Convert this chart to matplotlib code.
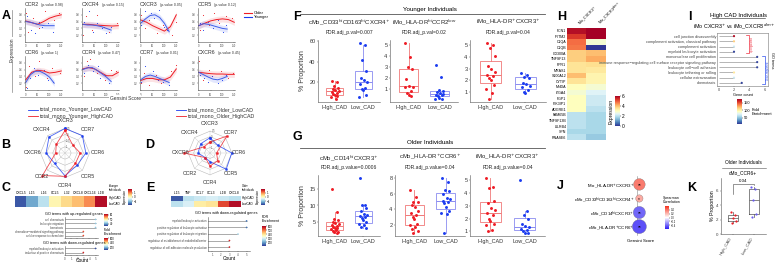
import numpy as np
import matplotlib
matplotlib.use("Agg")
import matplotlib.pyplot as plt
from matplotlib.lines import Line2D
from matplotlib.colors import LinearSegmentedColormap, Normalize
from matplotlib.cm import ScalarMappable

plt.rcParams['font.family'] = ['Liberation Sans', 'DejaVu Sans']
plt.rcParams['axes.linewidth'] = 0.4
plt.rcParams['xtick.major.width'] = 0.3
plt.rcParams['ytick.major.width'] = 0.3
plt.rcParams['xtick.major.size'] = 1
plt.rcParams['ytick.major.size'] = 1
plt.rcParams['xtick.major.pad'] = 0.8
plt.rcParams['ytick.major.pad'] = 0.8

# ---------------- data ----------------
# A: expression vs Gensini score
A_GENES = ['CCR2', 'CXCR4', 'CXCR3', 'CCR5', 'CCR6', 'CCR4', 'CCR7', 'CXCR6']
A_PVALS = ['0.98', '0.15', '0.05', '0.12', '1', '0.47', '0.01', '0.45']
A_X_OLD = [0, 25, 50, 75, 100, 125, 150]
A_X_YOUNG = [0, 20, 40, 60, 80, 100, 120]
A_OLD_LINE = [[0.62, 0.57, 0.52, 0.60, 0.70, 0.76, 0.80],
              [0.52, 0.52, 0.50, 0.49, 0.48, 0.47, 0.48],
              [0.65, 0.58, 0.48, 0.40, 0.32, 0.45, 0.80],
              [0.48, 0.55, 0.62, 0.66, 0.68, 0.66, 0.58],
              [0.30, 0.52, 0.58, 0.56, 0.50, 0.52, 0.56],
              [0.62, 0.66, 0.62, 0.52, 0.42, 0.42, 0.52],
              [0.28, 0.34, 0.34, 0.30, 0.30, 0.38, 0.62],
              [0.52, 0.50, 0.48, 0.47, 0.47, 0.46, 0.46]]
A_YOUNG_LINE = [[0.60, 0.58, 0.54, 0.50, 0.48, 0.48, 0.48],
                [0.52, 0.50, 0.50, 0.48, 0.45, 0.40, 0.35],
                [0.55, 0.68, 0.78, 0.80, 0.72, 0.55, 0.30],
                [0.48, 0.54, 0.52, 0.48, 0.44, 0.40, 0.38],
                [0.22, 0.45, 0.55, 0.55, 0.48, 0.38, 0.20],
                [0.60, 0.65, 0.66, 0.58, 0.48, 0.38, 0.25],
                [0.30, 0.40, 0.44, 0.40, 0.34, 0.28, 0.22],
                [0.52, 0.45, 0.38, 0.32, 0.30, 0.34, 0.40]]
A_OLD_PX = [[2, 10, 30, 55, 80, 120, 140], [3, 15, 40, 60, 90, 110, 145],
            [2, 20, 35, 70, 95, 130, 148], [5, 18, 45, 65, 85, 115, 140],
            [3, 12, 38, 58, 88, 112, 146], [4, 16, 30, 62, 92, 118, 142],
            [2, 14, 36, 66, 84, 126, 148], [3, 20, 42, 56, 96, 124, 144]]
A_OLD_PY = [[0.85, 0.30, 0.70, 0.40, 0.90, 0.65, 0.85], [0.20, 0.75, 0.35, 0.80, 0.45, 0.30, 0.55],
            [0.80, 0.40, 0.65, 0.25, 0.50, 0.20, 0.60], [0.35, 0.80, 0.50, 0.85, 0.55, 0.75, 0.70],
            [0.10, 0.70, 0.40, 0.85, 0.35, 0.65, 0.50], [0.40, 0.85, 0.90, 0.50, 0.30, 0.60, 0.55],
            [0.20, 0.50, 0.15, 0.45, 0.20, 0.55, 0.75], [0.85, 0.30, 0.60, 0.40, 0.55, 0.35, 0.50]]
A_YOUNG_PX = [[5, 22, 40, 55, 70, 95, 115], [4, 25, 45, 60, 80, 100, 118],
              [3, 18, 42, 58, 76, 98, 112], [6, 20, 38, 62, 82, 102, 116],
              [4, 16, 34, 52, 78, 94, 114], [5, 24, 44, 64, 74, 96, 110],
              [3, 20, 36, 50, 72, 92, 118], [6, 22, 40, 56, 80, 100, 116]]
A_YOUNG_PY = [[0.75, 0.35, 0.25, 0.60, 0.45, 0.55, 0.30], [0.60, 0.90, 0.30, 0.55, 0.40, 0.25, 0.45],
              [0.50, 0.90, 0.85, 0.70, 0.95, 0.45, 0.35], [0.55, 0.35, 0.60, 0.40, 0.65, 0.30, 0.50],
              [0.05, 0.35, 0.65, 0.45, 0.60, 0.30, 0.25], [0.50, 0.75, 0.55, 0.70, 0.35, 0.45, 0.20],
              [0.25, 0.70, 0.35, 0.55, 0.30, 0.25, 0.15], [0.45, 0.35, 0.25, 0.40, 0.20, 0.30, 0.45]]

# B/D radar
R_AXES = ['CXCR3', 'CCR7', 'CCR6', 'CCR5', 'CCR4', 'CCR2', 'CXCR6', 'CXCR4']
B_LOW = [1.0, 1.0, 0.85, 0.7, 0.93, 0.6, 0.77, 0.92]
B_HIGH = [0.92, 0.45, 0.62, 0.6, 0.95, 1.3, 0.38, 0.5]
D_LOW = [0.7, 0.5, 1.0, 1.05, 0.4, 0.3, 0.55, 0.6]
D_HIGH = [0.5, 1.1, 0.3, 0.5, 0.6, 0.3, 1.2, 0.4]

# C/E heatmaps
C_GENES = ['CXCL5', 'IL15', 'IL16', 'CCL5', 'IL32', 'CXCL8', 'CXCL16', 'IL1B']
C_VALS = [[-1.6, -1.1, -0.6, 0.1, 0.4, 0.6, 0.9, 1.7],
          [-1.6, -1.1, -0.6, 0.1, 0.4, 0.6, 0.9, 1.7]]
E_GENES = ['IL15', 'TNF', 'CCL7', 'CCL3', 'IL1B', 'CXCL8']
E_VALS = [[-1.6, -0.6, -0.5, -0.4, -0.5, -0.6],
          [-0.6, -0.4, 0.2, 0.3, 1.3, 1.7]]

# C/E GO terms
C_UP_TERMS = ['cell chemotaxis', 'leukocyte migration', 'chemotaxis',
              'chemokine−mediated signaling pathway', 'cellular response to chemokine']
C_UP_COUNT = [5, 5, 5, 3, 3]
C_UP_FE = [42, 42, 42, 58, 58]
C_DN_TERMS = ['myeloid leukocyte activation', 'induction of positive chemotaxis']
C_DN_COUNT = [5, 3]
C_DN_FE = [120, 560]
E_TERMS = ['myeloid leukocyte activation', 'positive regulation of leukocyte activation',
           'positive regulation of leukocyte migration',
           'regulation of establishment of endothelial barrier',
           'regulation of cell adhesion molecule production']
E_COUNT = [5, 5, 4, 3, 3]
E_FE = [150, 150, 250, 560, 560]

# F/G box plots
F_TITLES = [r'cMo_CD33$^{hi}$CD163$^{hi}$CXCR4$^{+}$', r'iMo_HLA-DR$^{hi}$CCR2$^{low}$',
            r'iMo_HLA-DR$^{+}$CXCR3$^{+}$']
F_FDR = ['FDR.adj_p.val=0.007', 'FDR.adj_p.val=0.02', 'FDR.adj_p.val=0.04']
F_HIGH = [[21, 20, 17, 15, 14, 13, 12, 11, 10, 9, 8, 7, 6, 4],
          [5.2, 3.9, 3.0, 2.8, 1.9, 1.3, 1.2, 1.2, 0.8, 0.6, 0.4, 0.3],
          [5.2, 5.0, 4.8, 4.1, 3.2, 3.0, 2.7, 2.5, 2.4, 2.2, 2.0, 1.6, 1.3, 0.9, 0.4]]
F_LOW = [[58, 56, 42, 31, 24, 22, 20, 19, 15, 14, 13, 8, 6],
         [3.2, 2.1, 0.9, 0.8, 0.7, 0.6, 0.5, 0.4, 0.4, 0.3, 0.2, 0.1, 0.05],
         [2.6, 2.5, 2.3, 2.2, 1.8, 1.7, 1.5, 1.4, 1.2, 1.0, 0.9]]
F_YTICKS = [[20, 40, 60], [1, 2, 3, 4, 5], [1, 2, 3, 4, 5]]
G_TITLES = [r'cMo_CD14$^{hi}$CXCR3$^{+}$', r'cMo_HLA-DR$^{+}$CCR6$^{+}$',
            r'iMo_HLA-DR$^{+}$CXCR3$^{+}$']
G_FDR = ['FDR.adj_p.value=0.0006', 'FDR.adj_p.value=0.04', 'FDR.adj_p.value=0.04']
G_HIGH = [[15.2, 8.1, 5.8, 5.5, 5.0, 4.7, 4.3, 4.0, 3.8, 3.5, 3.2, 3.0, 2.8, 2.5, 2.2, 2.0, 1.8, 1.5],
          [6.4, 5.6, 5.0, 4.9, 4.6, 4.3, 3.8, 3.5, 3.3, 3.0, 2.8, 2.2, 2.0, 1.8, 1.5, 1.3, 1.0],
          [5.2, 4.5, 4.4, 3.4, 3.2, 2.8, 2.7, 2.4, 2.3, 2.0, 1.8, 1.6, 1.5, 1.1, 1.0]]
G_LOW = [[18.5, 10.3, 10.0, 9.2, 8.2, 7.5, 7.0, 6.8, 6.5, 6.2, 5.5, 4.8, 4.3, 4.0, 3.5, 3.0],
         [8.0, 7.5, 6.4, 6.3, 5.9, 5.5, 5.3, 5.1, 5.0, 4.8, 4.3, 3.8, 3.5, 3.4, 1.0],
         [5.0, 2.6, 2.3, 2.0, 1.6, 1.4, 1.3, 1.2, 1.1, 1.0, 0.9, 0.85]]
G_YTICKS = [[5, 10, 15], [2, 4, 6, 8], [1, 2, 3, 4, 5]]
BOX_GROUPS = ['High_CAD', 'Low_CAD']

# H heatmap
H_GENES = ['FCN1', 'IFITM2', 'C1QA', 'C1QB', 'CD300A', 'TNFSF13', 'FPR1', 'MRAS1', 'S100A12',
           'CYTIP', 'MNDA', 'ITGA4', 'FGP1', 'PIK3IP1', 'ADGRE1', 'FAM65B', 'TNFSF13B',
           'LILRB4', 'SPN', 'RNASE6']
H_COLS = [r'iMo_CXCR3$^{+}$', r'iMo_CXCR3$^{dim+}$']
H_COL1 = [5.8, 5.3, 4.8, 4.7, 3.8, 3.8, 3.5, 3.5, 4.0, 3.5, 3.0, 2.8, 3.0, 3.0, 3.0,
          2.0, 2.0, 2.0, 1.8, 2.0]
H_COL2 = [6.0, 6.0, 2.8, 0.0, 4.0, 4.2, 3.6, 3.4, 3.2, 3.2, 2.8, 2.4, 2.2, 2.2, 2.0,
          1.8, 1.8, 1.8, 1.8, 1.6]

# I GO lollipop
I_TERMS = ['cell junction disassembly', 'complement activation, classical pathway',
           'complement activation', 'myeloid leukocyte activation',
           'mononuclear cell proliferation',
           'immune response−regulating cell surface receptor signaling pathway',
           'leukocyte cell−cell adhesion', 'leukocyte tethering or rolling',
           'cellular extravasation', 'chemotaxis']
I_COUNT = [2, 2, 2, 2, 5, 5, 5, 2, 2, 3]
I_FE = [170, 115, 70, 15, 15, 15, 15, 105, 70, 15]

# J dot plot
J_CELLS = [r'iMo_HLA-DR$^{+}$CXCR3$^{+}$', r'cMo_CD33$^{hi}$CD163$^{hi}$CXCR4$^{+}$',
           r'cMo_CD14$^{hi}$CXCR3$^{+}$', r'cMo_HLA-DR$^{+}$CCR6$^{+}$']
J_RHO = [0.38, 0.24, -0.40, -0.46]
J_STARS = ['**', '*', '**', '**']

# K
K_HIGH = [3.0, 2.6, 2.2, 1.8, 1.5]
K_LOW = [6.6, 6.3, 4.7, 2.8, 2.3]

# ---------------- helpers ----------------
W, H = 779, 262
fig = plt.figure(figsize=(W / 100, H / 100), dpi=100)
RED, BLUE = '#ee1c25', '#1b3cf0'
LRED, LBLUE = '#f07878', '#8a8cf0'
JIT = [-0.12, 0.06, -0.03, 0.11, -0.08, 0.02, 0.13, -0.1, 0.07, -0.05, 0.0, 0.09, -0.14, 0.04,
       -0.06, 0.12, -0.02, 0.08]


def px_ax(x0, y0, x1, y1, **kw):
    return fig.add_axes([x0 / W, 1 - y1 / H, (x1 - x0) / W, (y1 - y0) / H], **kw)


def txt(x, y, s, **kw):
    kw.setdefault('ha', 'center')
    kw.setdefault('va', 'center')
    return fig.text(x / W, 1 - y / H, s, **kw)


def fline(xs, ys, **kw):
    kw.setdefault('color', 'black')
    kw.setdefault('lw', 0.5)
    fig.add_artist(Line2D([x / W for x in xs], [1 - y / H for y in ys],
                          transform=fig.transFigure, **kw))


def thin(ax, fs=2.5):
    ax.tick_params(labelsize=fs, colors='#444444')
    for s in ['top', 'right']:
        ax.spines[s].set_visible(False)
    for s in ['left', 'bottom']:
        ax.spines[s].set_color('#555555')


def small_cbar(x0, y0, x1, y1, vmin, vmax, cmap, ticks, fs):
    cax = px_ax(x0, y0, x1, y1)
    cb = fig.colorbar(ScalarMappable(Normalize(vmin, vmax), cmap), cax=cax, ticks=ticks)
    cb.ax.tick_params(labelsize=fs, length=0.8, pad=0.4)
    cb.outline.set_visible(False)
    return cb


# panel letters
for L, (x, y) in {'A': (6, 16), 'B': (6, 145), 'C': (6, 188), 'D': (150, 145), 'E': (150, 188),
                  'F': (297, 17), 'G': (297, 137), 'H': (562, 17), 'I': (690, 17),
                  'J': (560, 186), 'K': (692, 188)}.items():
    txt(x, y, L, fontsize=9, fontweight='bold')

# ---------------- A ----------------
A_COLS = [25, 82, 140, 198]
A_ROWS = [(8, 42), (56, 90)]
for i, g in enumerate(A_GENES):
    r, c = divmod(i, 4)
    ax = px_ax(A_COLS[c], A_ROWS[r][0], A_COLS[c] + 37, A_ROWS[r][1])
    yo = np.array(A_OLD_LINE[i])
    yy = np.array(A_YOUNG_LINE[i])
    ax.fill_between(A_X_OLD, yo - 0.09, yo + 0.09, color=RED, alpha=0.12, lw=0)
    ax.fill_between(A_X_YOUNG, yy - 0.09, yy + 0.09, color=BLUE, alpha=0.12, lw=0)
    ax.scatter(A_OLD_PX[i], A_OLD_PY[i], s=0.6, color=RED, lw=0)
    ax.scatter(A_YOUNG_PX[i], A_YOUNG_PY[i], s=0.6, color=BLUE, lw=0)
    ax.plot(A_X_OLD, yo, color=RED, lw=0.7)
    ax.plot(A_X_YOUNG, yy, color='#3f5ee8', lw=0.7)
    ax.set_xlim(-3, 153)
    ax.set_ylim(0, 1)
    ax.set_xticks([0, 50, 100, 150])
    ax.set_yticks([0.2, 0.4, 0.6, 0.8])
    thin(ax, 1.8)
    t = ax.text(0.0, 1.04, g, transform=ax.transAxes, fontsize=3.8, va='bottom', color='#333333')
    ax.annotate('(p-value ' + A_PVALS[i] + ')', xy=(1, 0), xycoords=t, xytext=(1.5, 0),
                textcoords='offset points', fontsize=2.5, va='bottom', color='#333333')

fline([20, 228], [97, 97], color='#888888', lw=0.5)
txt(125, 98.5, 'Gensini Score', fontsize=3.5, color='#333333',
    bbox=dict(facecolor='white', edgecolor='none', pad=0.6))
fline([12, 12], [10, 92], color='#888888', lw=0.5)
txt(12, 50, 'Expression', fontsize=3.5, rotation=90, color='#333333',
    bbox=dict(facecolor='white', edgecolor='none', pad=0.6))
# Older / Younger legend
fline([244, 252], [13, 13], color=RED, lw=0.8)
fline([244, 252], [17, 17], color=BLUE, lw=0.8)
txt(254, 13, 'Older', fontsize=3, ha='left')
txt(254, 17, 'Younger', fontsize=3, ha='left')

# ---------------- B / D radar ----------------
ANG = np.linspace(0, 2 * np.pi, len(R_AXES), endpoint=False)


def radar(cx, cy, rad, low, high, leg_x, leg_lab):
    fline([leg_x, leg_x + 10], [110, 110], color=BLUE, lw=0.6)
    fline([leg_x, leg_x + 10], [116, 116], color=RED, lw=0.6)
    txt(leg_x + 12, 110, leg_lab + '_LowCAD', fontsize=3.8, ha='left', color='#333333')
    txt(leg_x + 12, 116, leg_lab + '_HighCAD', fontsize=3.8, ha='left', color='#333333')
    ax = px_ax(cx - rad, cy - rad, cx + rad, cy + rad, projection='polar')
    ax.set_theta_zero_location('N')
    ax.set_theta_direction(-1)
    ax.set_ylim(0, 1.1)
    ax.axis('off')
    ac = np.append(ANG, ANG[0])
    for rr in [0.25, 0.5, 0.75, 1.0]:
        ax.plot(ac, [rr] * len(ac), color='#bbbbbb', lw=0.4)
    for a in ANG:
        ax.plot([a, a], [0, 1.0], color='#cccccc', lw=0.3)
    for k, lab in enumerate(['0.5', '0', '-0.5', '-1']):
        ax.text(0.08, 1.0 - 0.25 * k, lab, fontsize=1.8, color='#555555', va='center')
    for vals, col in [(low, BLUE), (high, RED)]:
        v = np.append(vals, vals[0])
        ax.plot(ac, v, color=col, lw=0.6, marker='s', ms=0.9, clip_on=False, alpha=0.8)
    for a, name in zip(ANG, R_AXES):
        ax.text(a, 1.33, name, fontsize=3.8, ha='center', va='center', color='#333333')


radar(65, 153, 27, B_LOW, B_HIGH, 28, 'total_mono_Younger')
radar(210, 153, 24, D_LOW, D_HIGH, 176, 'total_mono_Older')

# ---------------- C / E heatmaps ----------------
HCMAP = 'RdYlBu_r'


def small_heat(x0, x1, genes, vals, grp):
    ax = px_ax(x0, 196, x1, 207)
    ax.imshow(vals, cmap=HCMAP, vmin=-1.8, vmax=1.8, aspect='auto')
    ax.set_xticks(range(len(genes)))
    ax.set_xticklabels(genes, fontsize=2.4)
    ax.xaxis.tick_top()
    ax.tick_params(length=0, pad=0.5)
    ax.set_yticks([])
    for s in ax.spines.values():
        s.set_visible(False)
    txt(x1 + 1.5, 188, grp + '\nIndividuals', fontsize=2.0, ha='left', linespacing=0.9)
    txt(x1 + 1.5, 198, 'HighCAD', fontsize=2.2, ha='left')
    txt(x1 + 1.5, 204, 'LowCAD', fontsize=2.2, ha='left')
    small_cbar(x1 + 21, 189, x1 + 25, 205, -1.8, 1.8, HCMAP, [-1, 0, 1], 2)
    txt(x1 + 18, 197, 'Expression', fontsize=2.2, rotation=90)


small_heat(15, 107, C_GENES, C_VALS, 'Younger')
small_heat(171, 240, E_GENES, E_VALS, 'Older')

FE_CMAP = 'RdYlBu_r'


def lolli(x0, y0, x1, y1, terms, counts, fe, vmin, vmax, xt, fs=3):
    ax = px_ax(x0, y0, x1, y1)
    yy = np.arange(len(terms))[::-1]
    ax.hlines(yy, 0, counts, color='#888888', lw=0.5)
    ax.scatter(counts, yy, c=fe, cmap=FE_CMAP, vmin=vmin, vmax=vmax, s=1.5, zorder=3, lw=0)
    ax.set_yticks(yy)
    ax.set_yticklabels(terms, fontsize=fs)
    ax.set_ylim(-0.6, len(terms) - 0.4)
    ax.set_xticks(xt)
    thin(ax, 2)
    ax.tick_params(axis='y', length=0, pad=1)
    return ax


txt(74, 214, 'GO terms with up-regulated genes', fontsize=2.7)
a1 = lolli(65, 217, 98, 238, C_UP_TERMS, C_UP_COUNT, C_UP_FE, 35, 62, [0, 1, 2, 3, 4, 5])
a1.set_xlim(0, 5.4)
a1.set_xticklabels([])
txt(74, 243, 'GO terms with down-regulated genes', fontsize=2.7)
a2 = lolli(65, 246, 98, 255, C_DN_TERMS, C_DN_COUNT, C_DN_FE, 100, 600, [0, 1, 2, 3, 4, 5])
a2.set_xlim(0, 5.4)
txt(82, 260, 'Count', fontsize=3.5)
small_cbar(104, 214, 108, 226, 35, 62, FE_CMAP, [40, 50, 60], 2)
small_cbar(104, 238, 108, 250, 100, 600, FE_CMAP, [200, 400, 600], 2)
txt(104, 232, 'Fold\nEnrichment', fontsize=2.5, ha='left', linespacing=0.9)

txt(226, 213, 'GO terms with down-regulated genes', fontsize=2.7)
a3 = lolli(208, 217, 250, 251, E_TERMS, E_COUNT, E_FE, 100, 600, [1, 2, 3, 4, 5])
a3.set_xlim(0.5, 5.4)
txt(229, 259, 'Count', fontsize=3.5)
small_cbar(262, 226, 266, 246, 100, 600, FE_CMAP, [200, 300, 400, 500, 600], 2)
txt(262, 219, 'FDR\nEnrichment', fontsize=2.5, ha='left', linespacing=0.9)

# ---------------- F / G boxes ----------------


def boxpanel(x0, y0, x1, y1, title, fdr, hi, lo, yt, ylab):
    ax = px_ax(x0, y0, x1, y1)
    bp = ax.boxplot([hi, lo], positions=[0, 1], widths=0.6, showfliers=False, patch_artist=True)
    for k, c in enumerate([LRED, LBLUE]):
        bp['boxes'][k].set(facecolor='none', edgecolor=c, lw=0.6)
        bp['medians'][k].set(color=c, lw=0.7)
        for w in bp['whiskers'][2 * k:2 * k + 2]:
            w.set(color=c, lw=0.6)
        for cp in bp['caps'][2 * k:2 * k + 2]:
            cp.set_visible(False)
    for k, (vals, c) in enumerate([(hi, RED), (lo, BLUE)]):
        xs = [k + JIT[j % len(JIT)] for j in range(len(vals))]
        ax.scatter(xs, vals, s=4.5, color=c, lw=0, zorder=3)
    ax.set_xlim(-0.6, 1.6)
    ax.set_xticks([0, 1])
    ax.set_xticklabels(BOX_GROUPS)
    ax.set_yticks(yt)
    thin(ax, 4)
    ax.tick_params(colors='#333333')
    ax.text(0.5, 1.25, title, transform=ax.transAxes, ha='center', fontsize=4.3, color='#222222')
    ax.text(0.5, 1.1, fdr, transform=ax.transAxes, ha='center', fontsize=3.6, color='#222222')
    if ylab:
        ax.set_ylabel('% Proportion', fontsize=5, labelpad=2, color='#333333')
    return ax


txt(430, 9, 'Younger Individuals', fontsize=4.5)
fline([300, 545], [14, 14], color='#555555', lw=0.6)
FX = [(318, 380), (390, 458), (470, 546)]
for k in range(3):
    boxpanel(FX[k][0], 40, FX[k][1], 102, F_TITLES[k], F_FDR[k], F_HIGH[k], F_LOW[k],
             F_YTICKS[k], k == 0)
txt(430, 143, 'Older Individuals', fontsize=4.5)
fline([300, 545], [148, 148], color='#555555', lw=0.6)
GX = [(318, 380), (395, 465), (470, 545)]
for k in range(3):
    boxpanel(GX[k][0], 175, GX[k][1], 236, G_TITLES[k], G_FDR[k], G_HIGH[k], G_LOW[k],
             G_YTICKS[k], k == 0)

# ---------------- H heatmap ----------------
ax = px_ax(567, 28, 606, 140)
ax.imshow(np.array([H_COL1, H_COL2]).T, cmap=HCMAP, vmin=0, vmax=6, aspect='auto')
ax.set_yticks(range(len(H_GENES)))
ax.set_yticklabels(H_GENES, fontsize=2.6)
ax.set_xticks([0, 1])
ax.set_xticklabels(H_COLS, fontsize=2.6, rotation=45, ha='left')
ax.xaxis.tick_top()
ax.tick_params(length=0, pad=0.5)
for s in ax.spines.values():
    s.set_visible(False)
small_cbar(615, 96, 620, 126, 0, 6, HCMAP, [0, 2, 4, 6], 3.5)
txt(611, 111, 'Expression', fontsize=3.6, rotation=90)

# ---------------- I ----------------
txt(738, 15, 'High CAD Individuals', fontsize=4.3)
fline([712, 765], [18, 18], color='#222222', lw=0.4)
txt(734, 26, r'iMo CXCR3$^{+}$ vs iMo_CXCR3$^{dim+}$', fontsize=3.9)
ax = px_ax(717, 33, 768, 86)
yy = np.arange(len(I_TERMS))[::-1]
ax.hlines(yy, 0, I_COUNT, color='#999999', lw=0.5)
ax.scatter(I_COUNT, yy, c=I_FE, cmap='RdYlBu_r', vmin=10, vmax=175, s=2.5, zorder=3, lw=0)
ax.set_yticks(yy)
ax.set_yticklabels(I_TERMS, fontsize=2.5)
ax.set_ylim(-0.6, len(I_TERMS) - 0.4)
ax.set_xlim(-0.2, 6.4)
ax.set_xticks([0, 2, 4, 6])
ax.tick_params(labelsize=2.8, length=1, pad=0.6, colors='#444444')
ax.tick_params(axis='y', length=0)
for s in ax.spines.values():
    s.set_color('#777777')
ax.set_xlabel('Gene count', fontsize=2.8, labelpad=0.8)
ax.plot([3.6, 3.9, 3.9, 3.6], [9.2, 9.2, 5.8, 5.8], color='#ee3040', lw=0.5)
ax.text(4.1, 7.5, 'Up-regulated', color='#ee3040', fontsize=2, rotation=90, va='center')
ax.plot([5.6, 6.0, 6.0, 5.6], [5.2, 5.2, -0.2, -0.2], color='#3050ee', lw=0.5)
ax.text(6.15, 2.5, 'Down-regulated', color='#3050ee', fontsize=2, rotation=90, va='center')
txt(772, 60, 'GO terms', fontsize=2.8, rotation=270)
small_cbar(737, 99, 742, 124, 10, 175, 'RdYlBu_r', [50, 100, 150], 2.8)
txt(752, 112, 'Fold\nEnrichment', fontsize=3, ha='left', linespacing=0.9)

# ---------------- J ----------------
JCMAP = LinearSegmentedColormap.from_list('j', ['#2d1cf5', '#ffffff', '#f5301c'])
ax = px_ax(637, 176, 645, 235)
yy = np.arange(len(J_CELLS))[::-1]
ax.scatter([0] * len(yy), yy, s=(np.abs(J_RHO) * 22) ** 2, c=J_RHO, cmap=JCMAP, vmin=-0.6,
           vmax=0.6, zorder=3, edgecolors='#666666', linewidths=0.2, clip_on=False)
for y, st in zip(yy, J_STARS):
    ax.text(0, y - 0.08, st, ha='center', va='center', fontsize=3.5, zorder=4)
ax.set_xlim(-0.5, 1.2)
ax.set_ylim(-0.6, len(yy) - 0.4)
ax.set_yticks(yy)
ax.set_yticklabels(J_CELLS, fontsize=3.2)
ax.set_xticks([])
ax.set_xlabel('Gensini Score', fontsize=3.2, labelpad=3)
for s in ['top', 'right', 'bottom']:
    ax.spines[s].set_visible(False)
ax.spines['left'].set_color('#888888')
ax.tick_params(axis='y', length=0, pad=2)
small_cbar(665, 206, 669, 229, -0.6, 0.6, JCMAP, [-0.4, -0.2, 0, 0.2, 0.4], 1.8)
txt(663, 200, 'Spearman\nCorrelation', fontsize=2.6, ha='left', linespacing=0.9)

# ---------------- K ----------------
txt(743, 163, 'Older Individuals', fontsize=3.5)
fline([722, 766], [168, 168], color='#555555', lw=0.4)
txt(743, 173, 'cMo_CCR6+', fontsize=3.5)
ax = px_ax(721, 178, 766, 234)
bp = ax.boxplot([K_HIGH, K_LOW], positions=[0, 1], widths=0.5, showfliers=False)
for k in range(2):
    for part in ['boxes', 'medians']:
        bp[part][k].set(color='#555555', lw=0.5)
    for w in bp['whiskers'][2 * k:2 * k + 2]:
        w.set(color='#555555', lw=0.5)
    for cp in bp['caps'][2 * k:2 * k + 2]:
        cp.set_visible(False)
ax.scatter([0 + JIT[j] for j in range(len(K_HIGH))], K_HIGH, s=2.5, color=RED, lw=0, zorder=3)
ax.scatter([1 + JIT[j] for j in range(len(K_LOW))], K_LOW, s=2.5, color='#6a5cf0', lw=0, zorder=3)
ax.set_ylim(0, 7.8)
ax.set_yticks([0, 2, 4, 6])
ax.set_xlim(-0.6, 1.6)
ax.set_xticks([0, 1])
ax.set_xticklabels(BOX_GROUPS, rotation=60, ha='right')
thin(ax, 3.2)
ax.set_ylabel('% Proportion', fontsize=3.8, labelpad=1)
ax.plot([0, 0, 1, 1], [5.6, 7.0, 7.0, 6.8], color='#444444', lw=0.4)
ax.text(0.5, 7.1, '0.04', ha='center', va='bottom', fontsize=3.2)

fig.savefig('out.png', dpi=100)
